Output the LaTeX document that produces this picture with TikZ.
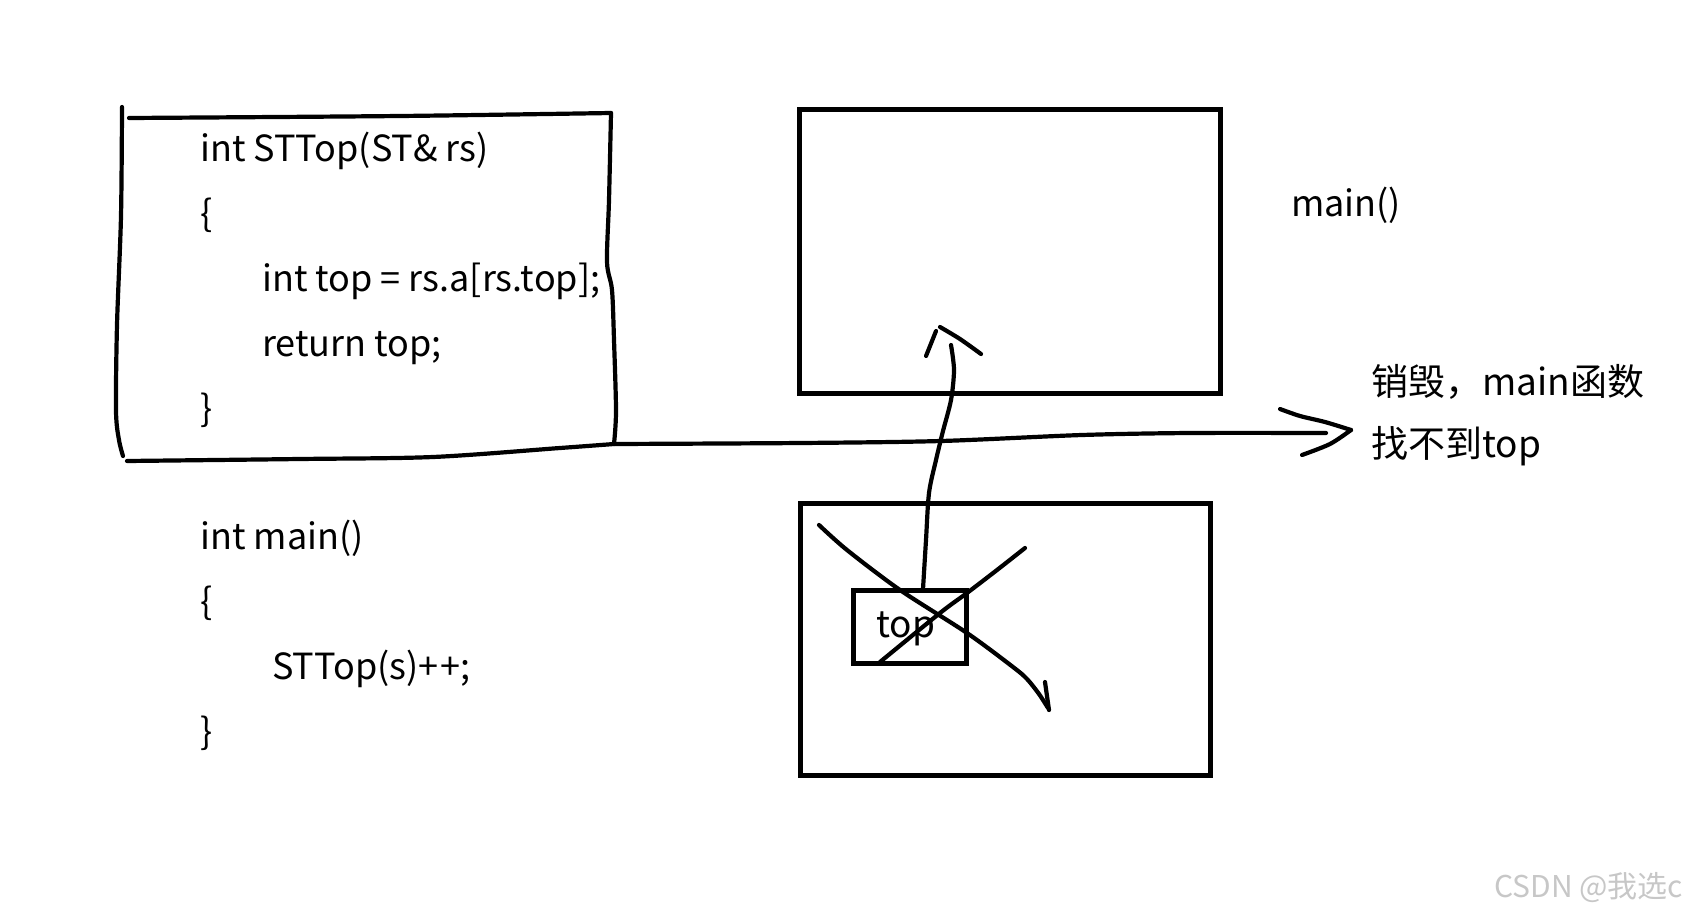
\documentclass[tikz,border=0pt]{standalone}
\usepackage{fontspec}
\setmainfont{Noto Sans CJK SC}
\begin{document}
\begin{tikzpicture}[x=1pt,y=-1pt,
  pen/.style={line width=4.2pt, line cap=round, line join=round},
  frame/.style={draw, line width=5pt, inner sep=0pt, outer sep=0pt},
  code/.style={anchor=base west, inner sep=0pt, font=\fontsize{36}{44}\selectfont},
  note/.style={anchor=base west, inner sep=0pt, font=\fontsize{37}{44}\selectfont},
  wmark/.style={anchor=base west, inner sep=0pt, text=black!22, font=\fontsize{30}{36}\selectfont}
]
\useasboundingbox (0,0) rectangle (1697,915);

% code text
\node[code] (l1) at (200,161) {int STTop(ST\& rs)};
\node[code] (l2) at (200,226) {\{};
\node[code] (l3) at (262,291) {int top = rs.a[rs.top];};
\node[code] (l4) at (262,356) {return top;};
\node[code] (l5) at (200,421) {\}};
\node[code] (m1) at (200,549) {int main()};
\node[code] (m2) at (200,614) {\{};
\node[code] (m3) at (272,679) {STTop(s)+\kern2pt+;};
\node[code] (m4) at (200,744) {\}};

% hand drawn frame around STTop
\coordinate (tl) at (129,118);
\coordinate (tr) at (611,113);
\coordinate (br) at (614,444);
\coordinate (bl) at (127,461);
\draw[pen] plot[smooth] coordinates {(tl) (400,116) (tr)};
\draw[pen] plot[smooth] coordinates {(122,107) (121,216) (117,325) (116,411) (119,440) (123,456)};
\draw[pen] plot[smooth] coordinates {(tr) (609,200) (607,262) (612,290) (614,340) (616,411) (br)};
\draw[pen] plot[smooth] coordinates {(bl) (300,459) (433,457) (560,448) (br)};

% stack frames
\node[frame, minimum width=421pt, minimum height=283pt] (mainbox) at (1009.5,251.5) {};
\node[code] (mainlbl) at (1291,216) {main()};
\node[frame, minimum width=410pt, minimum height=272pt] (topframe) at (1005,639) {};
\node[frame, minimum width=113pt, minimum height=73pt] (topbox) at (909.5,626.5) {};
\node[code, font=\fontsize{37}{44}\selectfont] (toptxt) at (876,637) {top};

% notes
\node[note] (n1) at (1371,395) {销毁，main函数};
\node[note] (n2) at (1371,457) {找不到top};

% destroy arrow
\coordinate (aend) at (1326,433);
\draw[pen] plot[smooth] coordinates {(br) (801,443) (941,441) (1082,435) (1190,433) (aend)};
\coordinate (tip) at (1351,430);
\draw[pen] plot[smooth] coordinates {(1280,409) (1300,416) (1325,422) (tip)};
\draw[pen] plot[smooth] coordinates {(tip) (1330,444) (1302,455)};

% return arrow up
\coordinate (up) at (951,345);
\coordinate (stemfoot) at (923,589);
\draw[pen] plot[smooth] coordinates {(stemfoot) (926,540) (929,493) (936,460) (943,431) (951,400) (954,370) (up)};
\draw[pen] (926,356) -- (936,331);
\draw[pen] plot[smooth] coordinates {(940,327) (960,339) (981,354)};

% cross
\draw[pen] plot[smooth] coordinates {(819,525) (847,550) (900,590) (967,633) (1013,667) (1027,679) (1039,694) (1048,708)};
\draw[pen] (1045,682) -- (1049,710);
\draw[pen] plot[smooth] coordinates {(880,662) (940,613) (967,593) (997,570) (1025,548)};

% watermark
\node[wmark] (wm) at (1494,897) {CSDN @我选c};
\end{tikzpicture}
\end{document}
